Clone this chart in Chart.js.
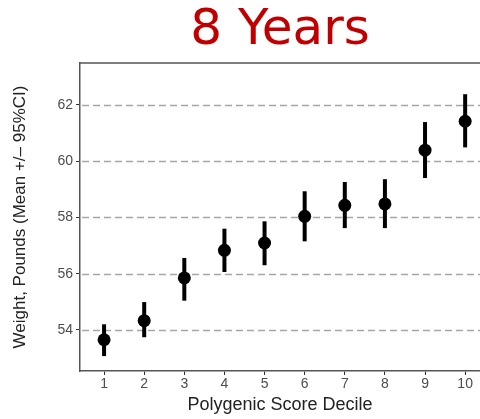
<!DOCTYPE html>
<html>
<head>
<meta charset="utf-8">
<script src="https://cdn.jsdelivr.net/npm/chart.js@4/dist/chart.umd.min.js"></script>
<style>
  html, body { margin: 0; padding: 0; background: #fff; }
  #wrap { width: 480px; height: 419px; }
</style>
</head>
<body>
<div id="wrap"><canvas id="myChart"></canvas></div>
<script>
// deciles and weight (mean with 95% CI)
const deciles = [1, 2, 3, 4, 5, 6, 7, 8, 9, 10];
const means = [53.65, 54.33, 55.85, 56.83, 57.09, 58.04, 58.43, 58.48, 60.39, 61.42];
const lower = [53.07, 53.74, 55.04, 56.06, 56.30, 57.15, 57.62, 57.62, 59.40, 60.49];
const upper = [54.20, 54.99, 56.56, 57.60, 57.86, 58.93, 59.26, 59.36, 61.39, 62.38];
const yTicks = [54, 56, 58, 60, 62];

// dashed horizontal grid lines at the y ticks
const dashedGrid = {
    id: 'dashedGrid',
    beforeDatasetsDraw(chart) {
        const a = chart.chartArea, ctx = chart.ctx, y = chart.scales.y;
        ctx.save();
        ctx.strokeStyle = '#a6a6a6';
        ctx.lineWidth = 1.3;
        ctx.setLineDash([7, 4]);
        yTicks.forEach(t => {
            const py = Math.round(y.getPixelForValue(t)) + 0.5;
            ctx.beginPath();
            ctx.moveTo(a.left + 2, py);
            ctx.lineTo(a.right, py);
            ctx.stroke();
        });
        ctx.restore();
    }
};

// vertical CI lines, drawn under the points
const errorBars = {
    id: 'errorBars',
    beforeDatasetsDraw(chart) {
        const ctx = chart.ctx;
        const x = chart.scales.x, y = chart.scales.y;
        ctx.save();
        ctx.strokeStyle = '#000';
        ctx.lineWidth = 4;
        deciles.forEach((d, i) => {
            ctx.beginPath();
            ctx.moveTo(x.getPixelForValue(d), y.getPixelForValue(lower[i]));
            ctx.lineTo(x.getPixelForValue(d), y.getPixelForValue(upper[i]));
            ctx.stroke();
        });
        ctx.restore();
    }
};

// top edge of the panel frame
const topBorder = {
    id: 'topBorder',
    afterDraw(chart) {
        const a = chart.chartArea, ctx = chart.ctx;
        ctx.save();
        ctx.strokeStyle = '#555';
        ctx.lineWidth = 1.5;
        ctx.beginPath();
        ctx.moveTo(a.left, a.top);
        ctx.lineTo(a.right, a.top);
        ctx.stroke();
        ctx.restore();
    }
};

const ctx = document.getElementById('myChart').getContext('2d');
const myChart = new Chart(ctx, {
    type: 'scatter',
    data: {
        datasets: [{
            label: 'Weight',
            data: deciles.map((d, i) => ({ x: d, y: means[i] })),
            backgroundColor: '#000',
            borderColor: '#000',
            borderWidth: 0,
            pointRadius: 6.5
        }]
    },
    options: {
        responsive: true,
        maintainAspectRatio: false,
        animation: false,
        layout: { padding: 0, autoPadding: false },
        plugins: {
            legend: { display: false },
            tooltip: { enabled: false },
            title: {
                display: true,
                text: '8 Years',
                fullSize: false,
                color: '#c00000',
                font: { family: 'DejaVu Sans', size: 50, weight: 'normal', lineHeight: 1.15 },
                padding: { top: 2.5, bottom: 3 }
            }
        },
        scales: {
            x: {
                type: 'linear',
                min: 0.4,
                max: 10.37,
                afterBuildTicks: s => { s.ticks = deciles.map(v => ({ value: v })); },
                afterFit: s => { s.height = 48; s.paddingLeft = 0; s.paddingRight = 0; },
                grid: { drawOnChartArea: false, drawTicks: true, tickLength: 4, tickColor: '#333', tickWidth: 1 },
                border: { display: true, color: '#555', width: 1.5 },
                ticks: { color: '#4d4d4d', padding: 1, font: { family: 'Liberation Sans', size: 14 } },
                title: {
                    display: true,
                    text: 'Polygenic Score Decile',
                    color: '#222',
                    font: { family: 'Liberation Sans', size: 18 },
                    padding: { top: 0, bottom: 3 }
                }
            },
            y: {
                min: 52.54,
                max: 63.49,
                afterBuildTicks: s => { s.ticks = yTicks.map(v => ({ value: v })); },
                afterFit: s => { s.width = 80; s.paddingTop = 0; s.paddingBottom = 0; },
                grid: { drawOnChartArea: false, drawTicks: true, tickLength: 4, tickColor: '#333', tickWidth: 1 },
                border: { display: true, color: '#555', width: 1.5 },
                ticks: { color: '#4d4d4d', padding: 3, font: { family: 'Liberation Sans', size: 14 } },
                title: {
                    display: true,
                    text: 'Weight, Pounds (Mean +/\u2013 95%CI)',
                    color: '#222',
                    font: { family: 'Liberation Sans', size: 17 },
                    padding: { top: 10, bottom: 0 }
                }
            }
        }
    },
    plugins: [dashedGrid, errorBars, topBorder]
});
</script>
</body>
</html>
